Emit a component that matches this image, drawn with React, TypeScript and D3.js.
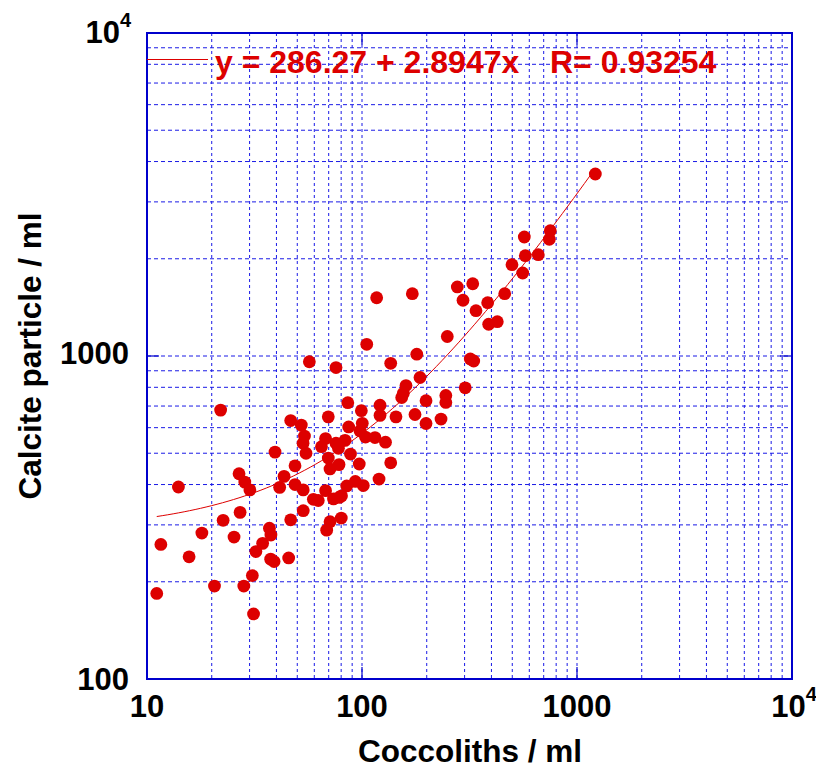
import React from 'react';
import * as d3 from 'd3';

// coccoliths / ml (x) and calcite particles / ml (y)
const coccoliths = [
  11.1, 11.6, 14.0, 15.7, 18.0, 20.6, 22.0, 22.6, 25.4, 26.8,
  27.1, 28.2, 28.5, 30.1, 30.9, 31.3, 32.1, 34.5, 37.1, 37.7,
  37.6, 39.0, 39.4, 41.4, 43.4, 45.6, 46.6, 46.6, 48.8, 48.8,
  52.2, 53.2, 53.3, 53.3, 54.0, 54.9, 56.9, 59.4, 62.6, 64.8,
  67.7, 67.7, 68.5, 69.7, 69.7, 71.0, 71.0, 73.7, 75.7, 75.7,
  77.7, 78.2, 78.4, 80.3, 80.1, 83.4, 84.9, 85.9, 86.7, 88.4,
  93.1, 97.1, 97.9, 99.3, 100.3, 101.4, 103.8, 105.2, 114.9, 120.0,
  121.3, 121.3, 128.6, 136.0, 136.0, 143.9, 153.0, 155.7, 160.2, 117.0,
  171.4, 176.4, 179.8, 186.1, 198.5, 198.5, 233.1, 245.4, 245.4, 249.3,
  277.6, 295.0, 302.0, 318.9, 330.8, 327.3, 339.0, 384.2, 388.3, 425.9,
  461.0, 498.5, 559, 568.8, 574.9, 660.7, 743.3, 751.2, 1217,
];

const calcite = [
  184, 261, 393, 239, 283, 194, 680, 310, 275, 432,
  328, 194, 407, 385, 209, 159, 248, 263, 293, 279,
  235, 231, 504, 392, 424, 237, 631, 311, 457, 400,
  611, 537, 385, 332, 565, 500, 960, 360, 357, 524,
  555, 383, 289, 648, 483, 447, 307, 361, 921, 537,
  518, 461, 365, 369, 315, 548, 396, 717, 603, 497,
  409, 463, 586, 677, 619, 397, 561, 1087, 559, 416,
  704, 655, 541, 949, 467, 648, 744, 767, 810, 1515,
  1559, 659, 1013, 858, 727, 618, 638, 755, 718, 1149,
  1636, 1488, 797, 979, 965, 1674, 1381, 1462, 1254, 1277,
  1559, 1917, 1807, 2336, 2044, 2059, 2298, 2443, 3660,
];

// linear fit shown in the legend
const fitIntercept = 286.27;
const fitSlope = 2.8947;
const fitR = 0.93254;

const xMajor = [10, 100, 1000, 10000];
const xMajorLabels = ['10', '100', '1000', '10^4'];
const yMajor = [100, 1000, 10000];
const yMajorLabels = ['100', '1000', '10^4'];

const width = 816;
const height = 775;
const left = 147;
const right = 792;
const top = 33;
const bottom = 679;

const font = '"Liberation Sans", Arial, Helvetica, sans-serif';
const gridColor = '#1a1ae6';
const frameColor = '#0000cc';
const red = '#dd0000';

const TickLabel = ({ label }: { label: string }) => {
  if (label.includes('^')) {
    const [base, exp] = label.split('^');
    return (
      <>
        <tspan>{base}</tspan>
        <tspan dy={-16} fontSize={20}>{exp}</tspan>
      </>
    );
  }
  return <>{label}</>;
};

export default function App() {
  const x = d3.scaleLog().domain([10, 10000]).range([left, right]);
  const y = d3.scaleLog().domain([100, 10000]).range([bottom, top]);

  const points = coccoliths.map((c, i) => ({ c, v: calcite[i] }));

  const xMin = d3.min(coccoliths) as number;
  const xMax = d3.max(coccoliths) as number;
  const fitX = d3.range(0, 81).map(i => xMin * Math.pow(xMax / xMin, i / 80));
  const fitLine = d3.line<number>()
    .x(d => x(d))
    .y(d => y(fitIntercept + fitSlope * d));

  const tickLen = 12;

  return (
    <svg width={width} height={height} style={{ position: 'absolute', left: 0, top: 0, background: '#fff' }}
      fontFamily={font} fontWeight="bold">
      {/* grid */}
      <g stroke={gridColor} strokeWidth={1}>
        {x.ticks().map(t => (
          <line key={'gx' + t} x1={x(t)} x2={x(t)} y1={top} y2={bottom} strokeDasharray="3,3" />
        ))}
        {y.ticks().map(t => (
          <line key={'gy' + t} x1={left} x2={right} y1={y(t)} y2={y(t)} strokeDasharray="4,3" />
        ))}
      </g>

      {/* major ticks, inside on all sides */}
      <g stroke={frameColor} strokeWidth={1.2}>
        {xMajor.map(t => (
          <g key={'tx' + t}>
            <line x1={x(t)} x2={x(t)} y1={bottom} y2={bottom - tickLen} />
            <line x1={x(t)} x2={x(t)} y1={top} y2={top + tickLen} />
          </g>
        ))}
        {yMajor.map(t => (
          <g key={'ty' + t}>
            <line x1={left} x2={left + tickLen} y1={y(t)} y2={y(t)} />
            <line x1={right} x2={right - tickLen} y1={y(t)} y2={y(t)} />
          </g>
        ))}
      </g>

      {/* frame */}
      <rect x={left} y={top} width={right - left} height={bottom - top}
        fill="none" stroke={frameColor} strokeWidth={2} />

      {/* fit line */}
      <path d={fitLine(fitX) || ''} fill="none" stroke={red} strokeWidth={1} />

      {/* points */}
      <g fill={red}>
        {points.map((p, i) => (
          <circle key={i} cx={x(p.c)} cy={y(p.v)} r={6.4} />
        ))}
      </g>

      {/* legend */}
      <line x1={left} x2={208} y1={59.5} y2={59.5} stroke={red} strokeWidth={1} />
      <text x={215} y={73} fontSize={32} fill={red}>
        {`y = ${fitIntercept} + ${fitSlope}x`}
      </text>
      <text x={550} y={73} fontSize={32} fill={red}>
        {`R= ${fitR}`}
      </text>

      {/* x tick labels */}
      {xMajor.map((t, i) => (
        <text key={'lx' + t} x={x(t) + (i === 3 ? 2 : 0)} y={717} fontSize={31} textAnchor="middle" fill="#000">
          <TickLabel label={xMajorLabels[i]} />
        </text>
      ))}

      {/* y tick labels */}
      {yMajor.map((t, i) => (
        <text key={'ly' + t} x={i === 2 ? 131 : 129} y={y(t) + (i === 0 ? 11 : i === 2 ? 10 : 8)}
          fontSize={31} textAnchor="end" fill="#000">
          <TickLabel label={yMajorLabels[i]} />
        </text>
      ))}

      {/* axis titles */}
      <text x={470} y={762} fontSize={31.5} textAnchor="middle" fill="#000">Coccoliths / ml</text>
      <text transform={`translate(41, ${(top + bottom) / 2}) rotate(-90)`} fontSize={31.5}
        textAnchor="middle" fill="#000">Calcite particle / ml</text>
    </svg>
  );
}
